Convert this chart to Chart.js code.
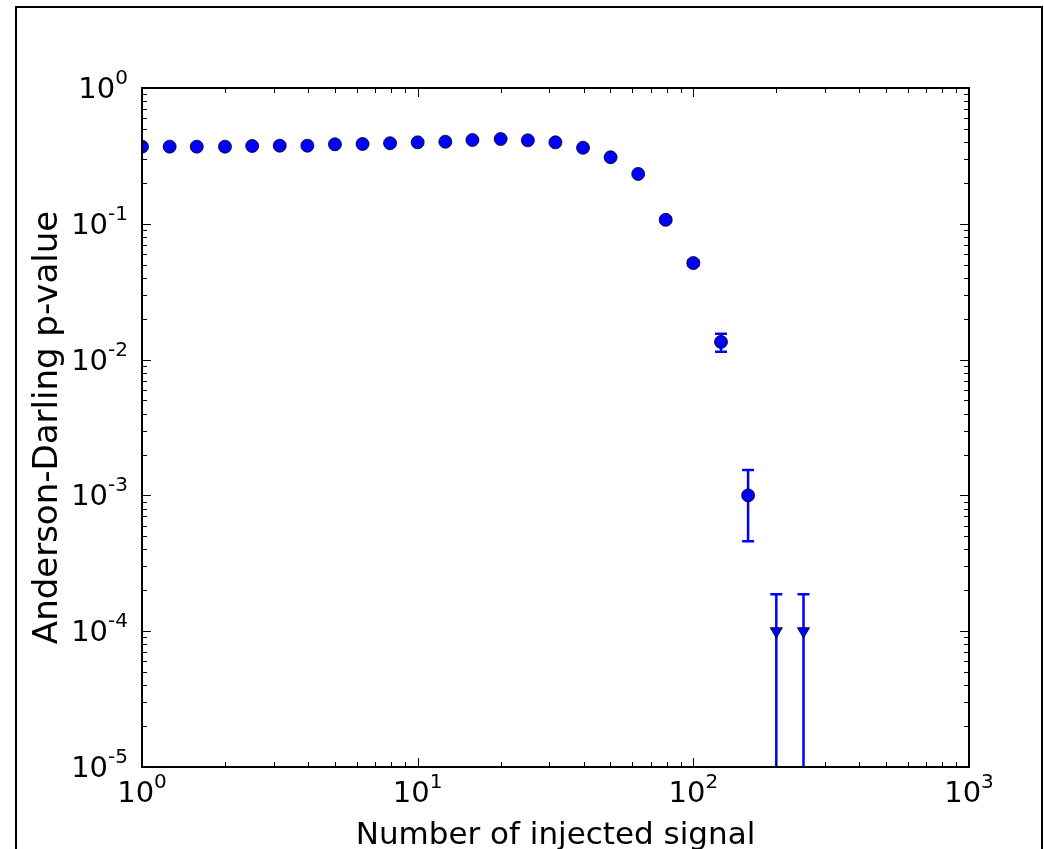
<!DOCTYPE html>
<html>
<head>
<meta charset="utf-8">
<script src="https://cdn.jsdelivr.net/npm/chart.js@4/dist/chart.umd.min.js"></script>
<style>
  html, body { margin: 0; padding: 0; background: #fff; }
  #wrap { width: 1044px; height: 849px; }
</style>
</head>
<body>
<div id="wrap"><canvas id="adChart" width="1044" height="849"></canvas></div>
<script>
// measured points (x = injected signal, y = p-value)
const signal = [1, 1.26, 1.58, 2, 2.51, 3.16, 3.98, 5.01, 6.31, 7.94, 10, 12.6, 15.8, 20, 25.1, 31.6, 39.8, 50.1, 63.1, 79.4, 100, 126, 158];
const pValue = [0.370, 0.370, 0.370, 0.370, 0.374, 0.376, 0.376, 0.385, 0.387, 0.392, 0.398, 0.402, 0.414, 0.421, 0.412, 0.398, 0.363, 0.309, 0.233, 0.107, 0.0514, 0.0135, 0.00100];
const errLow = [null, null, null, null, null, null, null, null, null, null, null, null, null, null, null, null, null, null, null, 0.103, 0.0490, 0.0114, 0.00046];
const errHigh = [null, null, null, null, null, null, null, null, null, null, null, null, null, null, null, null, null, null, null, 0.111, 0.0540, 0.0155, 0.00154];

// upper limits
const limSignal = [200, 251];
const limValue = [1e-4, 1e-4];
const limHigh = [1.87e-4, 1.87e-4];

const xTickExp = [0, 1, 2, 3];
const yTickExp = [0, -1, -2, -3, -4, -5];

const xTitle = "Number of injected signal";
const yTitle = "Anderson-Darling p-value";

const BLUE = "#0000ff";

function drawPow(ctx, exp, x, y, align) {
  // "10" with superscript exponent, y is the baseline of "10"
  const base = "10", sup = String(exp);
  ctx.font = "29px 'DejaVu Sans'";
  const wb = ctx.measureText(base).width;
  ctx.font = "20px 'DejaVu Sans'";
  const ws = ctx.measureText(sup).width;
  const total = wb + ws;
  let x0 = x;
  if (align === "center") x0 = x - total / 2;
  if (align === "right") x0 = x - total;
  ctx.textAlign = "left";
  ctx.textBaseline = "alphabetic";
  ctx.fillStyle = "#000";
  ctx.font = "29px 'DejaVu Sans'";
  ctx.fillText(base, x0, y);
  ctx.font = "20px 'DejaVu Sans'";
  ctx.fillText(sup, x0 + wb, y - 14);
}

const frame = {
  id: "frame",
  beforeDraw(chart) {
    const ctx = chart.ctx;
    ctx.save();
    ctx.fillStyle = "#fff";
    ctx.fillRect(0, 0, chart.width, chart.height);
    ctx.strokeStyle = "#000";
    ctx.lineWidth = 2;
    ctx.strokeRect(16, 7, 1026, 900);
    ctx.restore();
  },
  beforeDatasetsDraw(chart) {
    const { ctx, chartArea: a, scales: { x, y } } = chart;
    ctx.save();
    ctx.beginPath();
    ctx.rect(a.left, a.top, a.right - a.left, a.bottom - a.top);
    ctx.clip();
    ctx.strokeStyle = BLUE;
    ctx.lineWidth = 2.5;
    const cap = 6;
    signal.forEach((s, i) => {
      if (errLow[i] == null) return;
      const px = x.getPixelForValue(s);
      const lo = y.getPixelForValue(errLow[i]);
      const hi = y.getPixelForValue(errHigh[i]);
      ctx.beginPath();
      ctx.moveTo(px, lo); ctx.lineTo(px, hi);
      ctx.moveTo(px - cap, lo); ctx.lineTo(px + cap, lo);
      ctx.moveTo(px - cap, hi); ctx.lineTo(px + cap, hi);
      ctx.stroke();
    });
    limSignal.forEach((s, i) => {
      const px = x.getPixelForValue(s);
      const hi = y.getPixelForValue(limHigh[i]);
      ctx.beginPath();
      ctx.moveTo(px, a.bottom + 5); ctx.lineTo(px, hi);
      ctx.moveTo(px - cap, hi); ctx.lineTo(px + cap, hi);
      ctx.stroke();
    });
    ctx.restore();
  },
  afterDraw(chart) {
    const { ctx, chartArea: a, scales: { x, y } } = chart;
    ctx.save();
    // ticks, inward on all four sides
    ctx.strokeStyle = "#000";
    ctx.lineWidth = 1;
    ctx.beginPath();
    for (let e = 0; e <= 3; e++) {
      for (let m = 1; m <= 9; m++) {
        const v = m * Math.pow(10, e);
        if (v > 1000) break;
        const px = Math.round(x.getPixelForValue(v)) + 0.5;
        const len = m === 1 ? 9 : 5;
        ctx.moveTo(px, a.bottom); ctx.lineTo(px, a.bottom - len);
        ctx.moveTo(px, a.top); ctx.lineTo(px, a.top + len);
      }
    }
    for (let e = -5; e <= 0; e++) {
      for (let m = 1; m <= 9; m++) {
        const v = m * Math.pow(10, e);
        if (v > 1) break;
        const py = Math.round(y.getPixelForValue(v)) + 0.5;
        const len = m === 1 ? 9 : 5;
        ctx.moveTo(a.left, py); ctx.lineTo(a.left + len, py);
        ctx.moveTo(a.right, py); ctx.lineTo(a.right - len, py);
      }
    }
    ctx.stroke();
    // axes box
    ctx.lineWidth = 2;
    ctx.strokeRect(a.left, a.top, a.right - a.left, a.bottom - a.top);

    // tick labels
    xTickExp.forEach(e => drawPow(ctx, e, x.getPixelForValue(Math.pow(10, e)), a.bottom + 35, "center"));
    yTickExp.forEach(e => drawPow(ctx, e, a.left - 14, y.getPixelForValue(Math.pow(10, e)) + 10, "right"));

    // axis titles
    ctx.fillStyle = "#000";
    ctx.textAlign = "center";
    ctx.textBaseline = "alphabetic";
    ctx.font = "31px 'DejaVu Sans'";
    ctx.fillText(xTitle, (a.left + a.right) / 2, 844);
    ctx.font = "34px 'DejaVu Sans'";
    ctx.translate(57, (a.top + a.bottom) / 2);
    ctx.rotate(-Math.PI / 2);
    ctx.fillText(yTitle, 0, 0);
    ctx.restore();
  }
};

new Chart(document.getElementById("adChart"), {
  type: "scatter",
  data: {
    datasets: [
      {
        label: "p-value",
        data: signal.map((s, i) => ({ x: s, y: pValue[i] })),
        backgroundColor: BLUE,
        borderColor: "#000",
        borderWidth: 0.8,
        pointRadius: 6.5,
        pointHoverRadius: 6.5,
        clip: 0,
      },
      {
        label: "upper limit",
        data: limSignal.map((s, i) => ({ x: s, y: limValue[i] })),
        backgroundColor: BLUE,
        borderColor: "#000",
        borderWidth: 0.8,
        pointStyle: "triangle",
        rotation: 180,
        pointRadius: 7,
        pointHoverRadius: 7,
        clip: 0,
      },
    ],
  },
  options: {
    responsive: false,
    animation: false,
    events: [],
    layout: { padding: { left: 142, top: 88, right: 75, bottom: 82 } },
    plugins: { legend: { display: false }, tooltip: { enabled: false } },
    scales: {
      x: { type: "logarithmic", min: 1, max: 1000, display: false },
      y: { type: "logarithmic", min: 1e-5, max: 1, display: false },
    },
  },
  plugins: [frame],
});
</script>
</body>
</html>
